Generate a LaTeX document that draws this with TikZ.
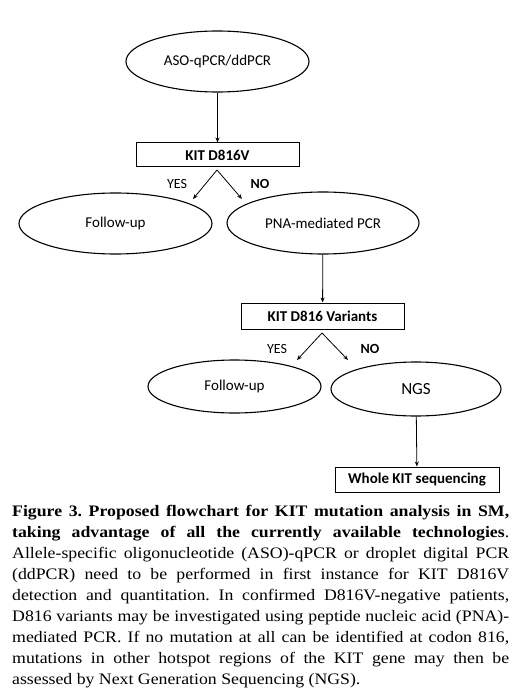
\documentclass[tikz,border=0pt]{standalone}
\usepackage{fontspec}
\setmainfont{Liberation Serif}[FakeStretch=1.11]
\newfontfamily\diagfont{Carlito}
\usetikzlibrary{shapes.geometric,arrows.meta}
\newcommand{\capline}[1]{\hbox to 497pt{#1}}
\frenchspacing
\begin{document}
\begin{tikzpicture}[x=1pt,y=-1pt,
  oval/.style={draw,line width=1.1pt,ellipse,inner sep=0pt,font=\diagfont\fontsize{15}{17}\selectfont},
  rbox/.style={draw,line width=1pt,rectangle,inner sep=0pt,font=\diagfont\bfseries\fontsize{15}{17}\selectfont},
  arr/.style={-{Stealth[length=5pt,width=4pt]},line width=0.8pt},
  lbl/.style={font=\diagfont\fontsize{14}{16}\selectfont},
  blbl/.style={font=\diagfont\bfseries\fontsize{14}{16}\selectfont}]
\useasboundingbox (0,0) rectangle (518,695);
\fill[white] (0,0) rectangle (518,695);
\node[oval,minimum width=183,minimum height=61] (aso) at (217.5,61.5) {ASO-qPCR/ddPCR};
\node[rbox,minimum width=163,minimum height=24] (k1) at (217.5,155) {KIT D816V};
\node[oval,minimum width=193,minimum height=61] (fu1) at (115.5,223.5) {Follow-up};
\node[oval,minimum width=192,minimum height=62] (pna) at (323,223) {PNA-mediated PCR};
\node[rbox,minimum width=163,minimum height=26] (k2) at (322.5,316) {KIT D816 Variants};
\node[oval,minimum width=173,minimum height=53] (fu2) at (234.5,386.5) {Follow-up};
\node[oval,minimum width=170,minimum height=54,font=\diagfont\fontsize{17}{19}\selectfont] (ngs) at (416,389) {NGS};
\node[rbox,minimum width=164,minimum height=25] (wk) at (417,479.5) {Whole KIT sequencing};
\coordinate (k1a) at (217,170);
\coordinate (k1y) at (193,199);
\coordinate (k1n) at (242,199);
\coordinate (k2a) at (322,333);
\coordinate (k2y) at (297,360);
\coordinate (k2n) at (348,360);
\draw[arr] (aso) -- (k1);
\draw[arr] (k1a) -- (k1y);
\draw[arr] (k1a) -- (k1n);
\draw[arr] (pna) -- (k2);
\draw[arr] (k2a) -- (k2y);
\draw[arr] (k2a) -- (k2n);
\draw[arr] (ngs) -- (wk);
\node[lbl] (y1) at (177,184) {YES};
\node[blbl] (n1) at (260,184) {NO};
\node[lbl] (y2) at (277,349) {YES};
\node[blbl] (n2) at (370,349) {NO};
\node[anchor=north west,inner sep=0pt] (cap) at (12,505) {\parbox{497pt}{\fontsize{16}{21}\selectfont
\capline{\textbf{Figure 3. Proposed flowchart for KIT mutation analysis in SM,}}
\capline{\textbf{taking advantage of all the currently available technologies}.}
\capline{Allele-specific oligonucleotide (ASO)-qPCR or droplet digital PCR}
\capline{(ddPCR) need to be performed in first instance for KIT D816V}
\capline{detection and quantitation. In confirmed D816V-negative patients,}
\capline{D816 variants may be investigated using peptide nucleic acid (PNA)-}
\capline{mediated PCR. If no mutation at all can be identified at codon 816,}
\capline{mutations in other hotspot regions of the KIT gene may then be}
\hbox{assessed by Next Generation Sequencing (NGS).}}};
\end{tikzpicture}
\end{document}
